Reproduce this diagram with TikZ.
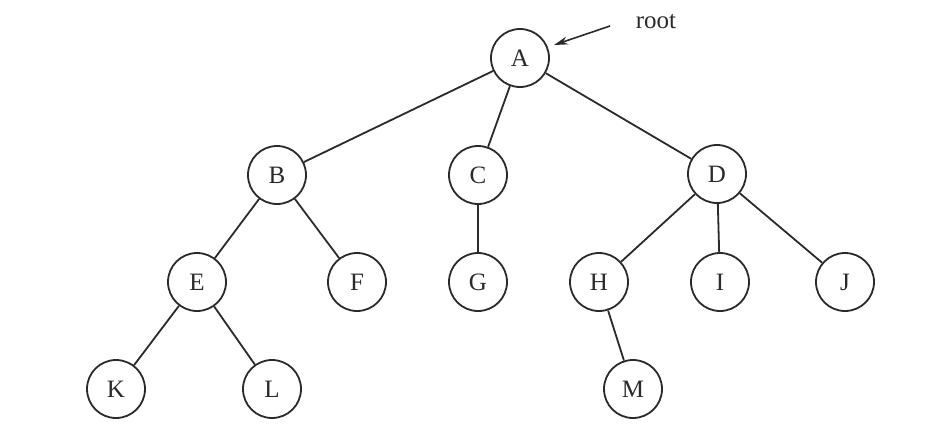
\documentclass[tikz,border=0pt]{standalone}
\usepackage{fontspec}
\setmainfont{Liberation Serif}
\usetikzlibrary{arrows.meta}
\definecolor{ink}{HTML}{2A2A2A}
\begin{document}
\begin{tikzpicture}[x=1pt,y=-1pt,
  tnode/.style={circle,draw=ink,line width=1.8pt,minimum size=58pt,inner sep=0pt,font=\fontsize{25}{27}\selectfont,text=ink},
  edge/.style={draw=ink,line width=1.8pt},
  lbl/.style={font=\fontsize{25}{27}\selectfont,text=ink}]
\useasboundingbox[fill=white] (0,0) rectangle (935,434);
\node[tnode] (A) at (520,58) {A};
\node[tnode] (B) at (277,175) {B};
\node[tnode] (C) at (478,175) {C};
\node[tnode] (D) at (717,174) {D};
\node[tnode] (E) at (197,282) {E};
\node[tnode] (F) at (357,282) {F};
\node[tnode] (G) at (478,282) {G};
\node[tnode] (H) at (599,282) {H};
\node[tnode] (I) at (720,282) {I};
\node[tnode] (J) at (845,282) {J};
\node[tnode] (K) at (116,389) {K};
\node[tnode] (L) at (272,389) {L};
\node[tnode] (M) at (633,389) {M};
\draw[edge] (A) -- (B);
\draw[edge] (A) -- (C);
\draw[edge] (A) -- (D);
\draw[edge] (B) -- (E);
\draw[edge] (B) -- (F);
\draw[edge] (C) -- (G);
\draw[edge] (D) -- (H);
\draw[edge] (D) -- (I);
\draw[edge] (D) -- (J);
\draw[edge] (E) -- (K);
\draw[edge] (E) -- (L);
\draw[edge] (H) -- (M);
\node[lbl] (root) at (656,22) {root};
\coordinate (rs) at (610,26);
\coordinate (rt) at (554,45);
\draw[draw=ink,line width=1.6pt,-{Stealth[length=14pt,width=8pt]}] (rs) -- (rt);
\end{tikzpicture}
\end{document}
